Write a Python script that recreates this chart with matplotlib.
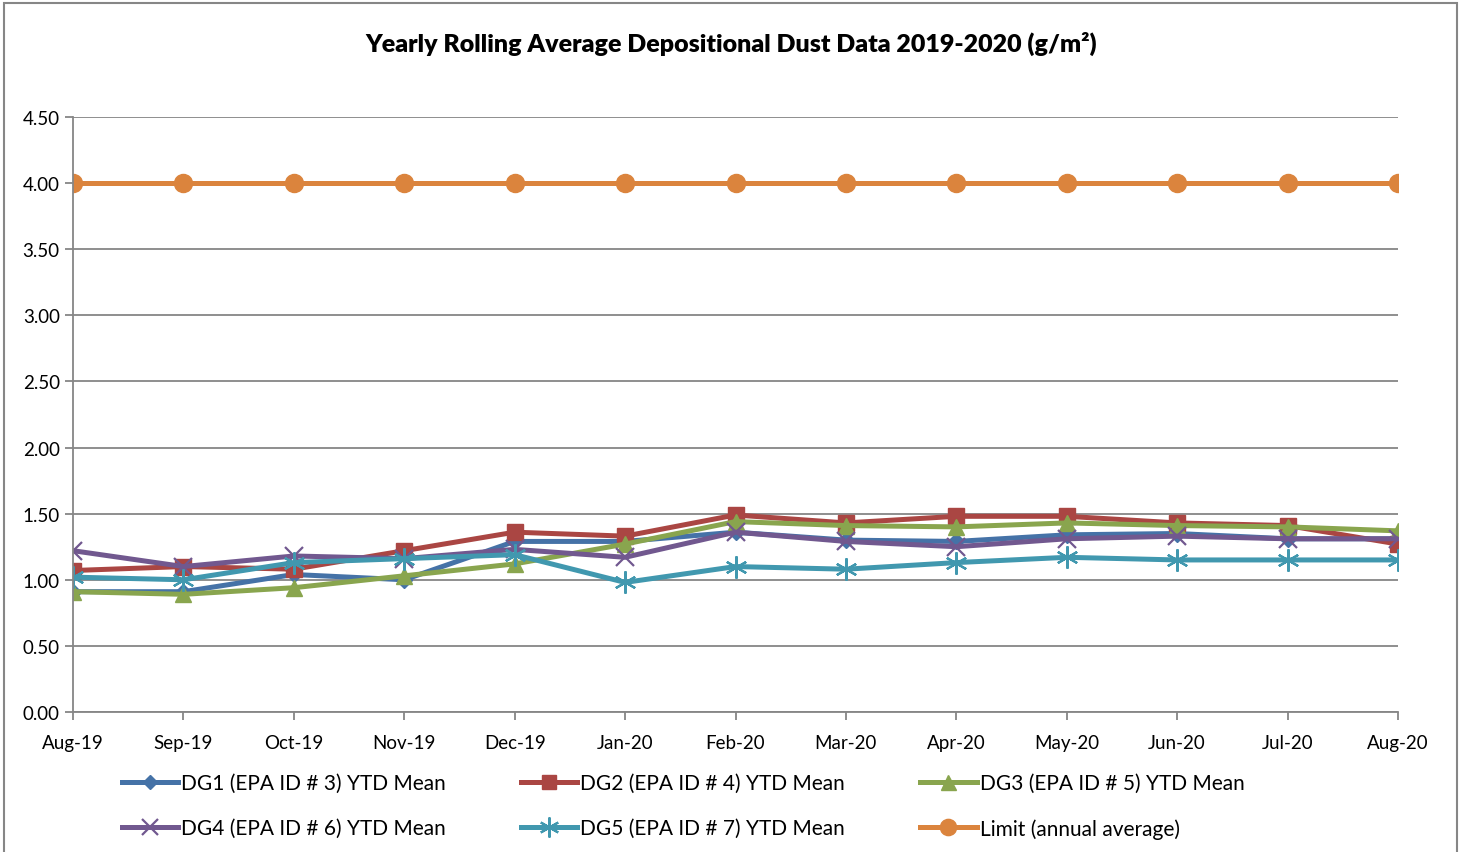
import matplotlib
matplotlib.use("Agg")
import matplotlib.pyplot as plt
from matplotlib.patches import Rectangle

plt.rcParams['font.family'] = ['Lato', 'DejaVu Sans']

months = ["Aug-19", "Sep-19", "Oct-19", "Nov-19", "Dec-19", "Jan-20", "Feb-20",
          "Mar-20", "Apr-20", "May-20", "Jun-20", "Jul-20", "Aug-20"]
dg1 = [0.91, 0.91, 1.04, 1.00, 1.29, 1.29, 1.36, 1.30, 1.29, 1.34, 1.35, 1.31, 1.31]
dg2 = [1.07, 1.10, 1.08, 1.22, 1.36, 1.33, 1.49, 1.43, 1.48, 1.48, 1.43, 1.41, 1.27]
dg3 = [0.91, 0.89, 0.94, 1.03, 1.12, 1.27, 1.44, 1.41, 1.40, 1.43, 1.41, 1.40, 1.37]
dg4 = [1.22, 1.10, 1.18, 1.16, 1.23, 1.17, 1.36, 1.29, 1.25, 1.31, 1.33, 1.31, 1.31]
dg5 = [1.02, 1.00, 1.13, 1.16, 1.19, 0.98, 1.10, 1.08, 1.13, 1.17, 1.15, 1.15, 1.15]
limit = [4.00] * 13
yticks = [0.0, 0.5, 1.0, 1.5, 2.0, 2.5, 3.0, 3.5, 4.0, 4.5]

labels = ["DG1 (EPA ID # 3) YTD Mean", "DG2 (EPA ID # 4) YTD Mean",
          "DG3 (EPA ID # 5) YTD Mean", "DG4 (EPA ID # 6) YTD Mean",
          "DG5 (EPA ID # 7) YTD Mean", "Limit (annual average)"]

fig = plt.figure(figsize=(14.63, 8.53), dpi=100)
ax = fig.add_axes([73/1463, 1-713/853, (1398-73)/1463, (713-118)/853])

x = list(range(len(months)))
asterisk = (6, 2, 0)
series = [
    (dg1, "#4572A7", "D", 8),
    (dg2, "#AA4643", "s", 11),
    (dg3, "#89A54E", "^", 12),
    (dg4, "#71588F", "x", 13),
    (dg5, "#4198AF", asterisk, 16),
    (limit, "#DB843D", "o", 13),
]
handles = []
for (vals, col, mk, ms), lab in zip(series, labels):
    kw = dict(color=col, lw=3.6, marker=mk, markersize=ms, label=lab,
              markerfacecolor=col, markeredgecolor=col)
    if mk in ("x", asterisk):
        kw["markeredgewidth"] = 1.6
    h, = ax.plot(x, vals, **kw)
    handles.append(h)

ax.set_xlim(0, 12)
ax.set_ylim(0, 4.5)
ax.set_yticks(yticks)
ax.set_yticklabels([f"{v:.2f}" for v in yticks])
ax.set_xticks(x)
ax.set_xticklabels(months)
ax.yaxis.grid(True, color="#868686", lw=1.3)
ax.set_axisbelow(True)
for s in ("top", "right"):
    ax.spines[s].set_visible(False)
for s in ("left", "bottom"):
    ax.spines[s].set_color("#868686")
    ax.spines[s].set_linewidth(1.3)
ax.tick_params(axis="both", colors="#868686", labelcolor="black", labelsize=13.5,
               length=6, width=1.3)
ax.tick_params(axis="x", pad=10)

fig.text(0.5, 1-44/853, "Yearly Rolling Average Depositional Dust Data 2019-2020 (g/m²)",
         ha="center", va="center", fontsize=18, fontweight="heavy")

order = [0, 3, 1, 4, 2, 5]
fig.legend(handles=[handles[i] for i in order], loc="upper left", ncol=3,
           bbox_to_anchor=(122/1463, 1-774/853), borderaxespad=0, borderpad=0,
           frameon=False, fontsize=15, handlelength=2.7, columnspacing=3.6,
           handletextpad=0.15, labelspacing=1.2, markerscale=0.9)

fig.patches.append(Rectangle((4/1463, -0.01), 1453/1463, 1.0 - 4/853 + 0.01,
                             transform=fig.transFigure, fill=False,
                             edgecolor="#868686", lw=1.5))

fig.savefig("out.png", dpi=100)
